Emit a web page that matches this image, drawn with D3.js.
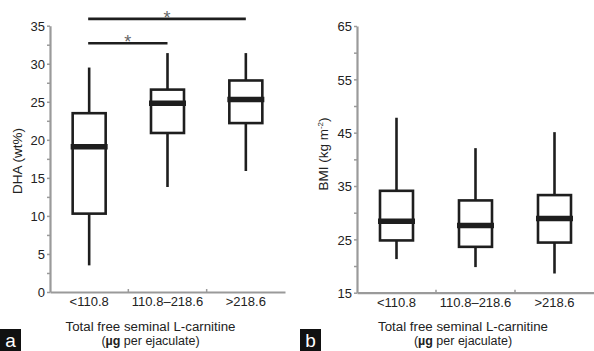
<!DOCTYPE html>
<html>
<head>
<meta charset="utf-8">
<script src="https://cdn.jsdelivr.net/npm/d3@7.9.0/dist/d3.min.js"></script>
<style>
  body { margin: 0; background: #fff; }
  svg { display: block; font-family: "Liberation Sans", Arial, sans-serif; }
</style>
</head>
<body>
<svg width="594" height="351"></svg>
<script>
const groups = ['<110.8', '110.8–218.6', '>218.6'];

// DHA (wt%) boxes: [whisker low, Q1, median, Q3, whisker high]
const dhaLow = [3.5, 13.8, 15.9];
const dhaQ1 = [10.3, 20.9, 22.2];
const dhaMed = [19.1, 24.8, 25.3];
const dhaQ3 = [23.5, 26.6, 27.8];
const dhaHigh = [29.5, 31.4, 31.4];
const dhaTicks = [0, 5, 10, 15, 20, 25, 30, 35];
const dhaMinor = [2.5, 7.5, 12.5, 17.5, 22.5, 27.5, 32.5];

// BMI (kg m-2) boxes
const bmiLow = [21.3, 19.8, 18.6];
const bmiQ1 = [24.8, 23.6, 24.4];
const bmiMed = [28.4, 27.6, 28.9];
const bmiQ3 = [34.1, 32.3, 33.3];
const bmiHigh = [47.8, 42.1, 45.1];
const bmiTicks = [15, 25, 35, 45, 55, 65];
const bmiMinor = [20, 30, 40, 50, 60];

// significance brackets for DHA: [from group, to group, y value]
const sigFrom = [0, 0];
const sigTo = [1, 2];
const sigLevel = [32.7, 35.9];

const svg = d3.select('svg');
const axisColor = '#9a9a9a';
const ink = '#1e1e1e';

function panel(opts) {
  const g = svg.append('g');
  const x = d3.scaleBand().domain(groups).range([opts.left, opts.right]);
  const y = d3.scaleLinear().domain(opts.domain).range([opts.bottom, opts.top]);

  // y axis
  const ya = g.append('g').attr('transform', `translate(${opts.left},0)`)
    .call(d3.axisLeft(y).tickValues(opts.ticks).tickSize(3).tickPadding(2).tickSizeOuter(0));
  g.append('g').attr('transform', `translate(${opts.left},0)`)
    .call(d3.axisLeft(y).tickValues(opts.minor).tickSize(3).tickFormat('').tickSizeOuter(0))
    .select('.domain').remove();
  // x axis
  g.append('g').attr('transform', `translate(0,${opts.bottom})`)
    .call(d3.axisBottom(x).tickSize(0).tickPadding(5));
  g.append('g').attr('transform', `translate(0,${opts.bottom})`)
    .selectAll('line').data(groups.slice(1)).join('line')
    .attr('x1', d => x(d)).attr('x2', d => x(d))
    .attr('y1', -3).attr('y2', 1)
    .attr('stroke', axisColor).attr('stroke-width', 1.5);

  g.selectAll('.domain').attr('stroke', axisColor).attr('stroke-width', 2.2);
  g.selectAll('.tick line').attr('stroke', axisColor).attr('stroke-width', 1.5);
  g.selectAll('.tick text').attr('fill', '#222').attr('font-size', 13)
    .attr('font-family', '"Liberation Sans", Arial, sans-serif');
  ya.selectAll('.tick text').attr('dy', '0.36em');

  const bw = 33;
  groups.forEach((grp, i) => {
    const cx = x(grp) + x.bandwidth() / 2;
    // whiskers
    g.append('line').attr('x1', cx).attr('x2', cx)
      .attr('y1', y(opts.low[i])).attr('y2', y(opts.q1[i]))
      .attr('stroke', ink).attr('stroke-width', 2.6);
    g.append('line').attr('x1', cx).attr('x2', cx)
      .attr('y1', y(opts.q3[i])).attr('y2', y(opts.high[i]))
      .attr('stroke', ink).attr('stroke-width', 2.6);
    // box
    g.append('rect').attr('x', cx - bw / 2).attr('width', bw)
      .attr('y', y(opts.q3[i])).attr('height', y(opts.q1[i]) - y(opts.q3[i]))
      .attr('fill', '#fff').attr('stroke', ink).attr('stroke-width', 2.6);
    // median
    g.append('line').attr('x1', cx - bw / 2 - 2).attr('x2', cx + bw / 2 + 2)
      .attr('y1', y(opts.med[i])).attr('y2', y(opts.med[i]))
      .attr('stroke', ink).attr('stroke-width', 5.5);
  });

  // y label
  g.append('text')
    .attr('transform', `translate(${opts.labelX},${opts.labelY}) rotate(-90)`)
    .attr('text-anchor', 'middle').attr('font-size', 13.5).attr('fill', '#222')
    .html(opts.ylabel);

  // x title
  g.append('text').attr('x', opts.titleX).attr('y', 330.5)
    .attr('text-anchor', 'middle').attr('font-size', 12.5).attr('fill', '#222')
    .attr('textLength', 170).attr('lengthAdjust', 'spacingAndGlyphs')
    .text('Total free seminal L-carnitine');
  g.append('text').attr('x', opts.titleX).attr('y', 344.5)
    .attr('text-anchor', 'middle').attr('font-size', 12.5).attr('fill', '#222')
    .html('(<tspan font-weight="bold">µg</tspan> per ejaculate)');

  // panel letter
  g.append('rect').attr('x', opts.offset).attr('y', 329).attr('width', 21).attr('height', 22)
    .attr('fill', '#111');
  g.append('text').attr('x', opts.offset + 10.5).attr('y', 347)
    .attr('text-anchor', 'middle').attr('font-size', 19).attr('fill', '#fff')
    .text(opts.letter);

  return { g, x, y };
}

const a = panel({
  offset: 0, letter: 'a', left: 50, right: 285, top: 25.7, bottom: 292,
  domain: [0, 35], ticks: dhaTicks, minor: dhaMinor,
  low: dhaLow, q1: dhaQ1, med: dhaMed, q3: dhaQ3, high: dhaHigh,
  labelX: 22, labelY: 161, ylabel: 'DHA (wt%)', titleX: 150.5
});

panel({
  offset: 300, letter: 'b', left: 357, right: 594, top: 26, bottom: 292.7,
  domain: [15, 65], ticks: bmiTicks, minor: bmiMinor,
  low: bmiLow, q1: bmiQ1, med: bmiMed, q3: bmiQ3, high: bmiHigh,
  labelX: 328, labelY: 154, titleX: 463,
  ylabel: 'BMI (kg m<tspan font-size="8" dy="-5">-2</tspan><tspan dy="5">)</tspan>'
});

// significance bars
sigFrom.forEach((f, i) => {
  const x1 = a.x(groups[f]) + a.x.bandwidth() / 2 - 1;
  const x2 = a.x(groups[sigTo[i]]) + a.x.bandwidth() / 2;
  const yy = a.y(sigLevel[i]);
  a.g.append('line').attr('x1', x1).attr('x2', x2).attr('y1', yy).attr('y2', yy)
    .attr('stroke', ink).attr('stroke-width', 2.6);
  a.g.append('text').attr('x', (x1 + x2) / 2).attr('y', yy + 5)
    .attr('text-anchor', 'middle').attr('font-size', 18).attr('fill', '#666')
    .text('*');
});
</script>
</body>
</html>
